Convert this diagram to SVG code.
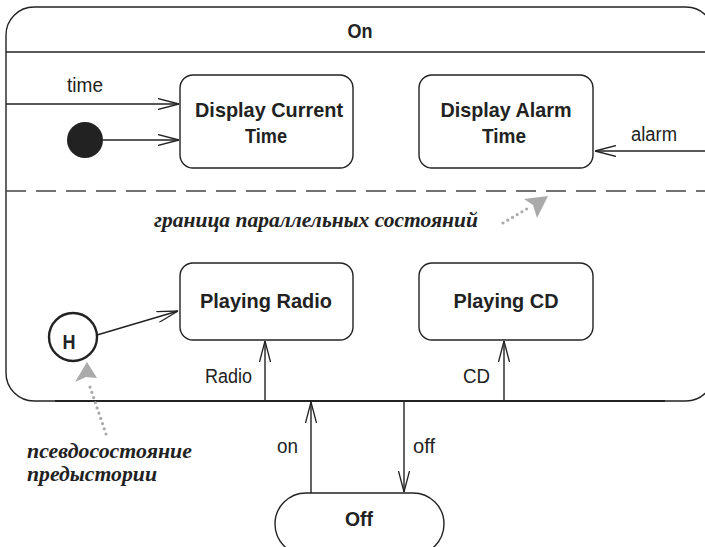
<svg xmlns="http://www.w3.org/2000/svg" width="705" height="547" viewBox="0 0 705 547">
<style>
.ln{fill:none;stroke:#222;stroke-width:1.4}
.st{fill:#fff;stroke:#222;stroke-width:1.4}
.t{font-family:"Liberation Sans",Arial,sans-serif;font-size:20px;fill:#222}
.b{font-family:"Liberation Sans",Arial,sans-serif;font-size:21px;font-weight:bold;fill:#222;text-anchor:middle}
.n{font-family:"Liberation Serif","DejaVu Serif",serif;font-style:italic;font-weight:bold;font-size:22px;fill:#222}
.dot{fill:none;stroke:#aaa;stroke-width:3.2;stroke-linecap:round;stroke-dasharray:0 5.5}
</style>
<defs>
<marker id="a" viewBox="0 0 21 12" refX="21" refY="6" markerWidth="21" markerHeight="12" markerUnits="userSpaceOnUse" orient="auto">
<path d="M0,0.5 L21,6 L0,11.5" fill="none" stroke="#222" stroke-width="1.3"/>
</marker>
</defs>
<g id="On">
<path class="st" d="M34,7 H686 A28,28 0 0 1 714,35 V373 A28,28 0 0 1 686,401 H34 A28,28 0 0 1 6,373 V35 A28,28 0 0 1 34,7 Z"/>
<line class="ln" x1="6" y1="52" x2="705" y2="52"/>
<text class="b" x="360" y="38" textLength="25" lengthAdjust="spacingAndGlyphs">On</text>
<line x1="6" y1="191" x2="705" y2="191" stroke="#444" stroke-width="1.4" stroke-dasharray="20 10"/>
<line x1="55" y1="401" x2="665" y2="401" stroke="#222" stroke-width="2.2"/>
</g>
<g id="initial"><circle cx="85" cy="140" r="18" fill="#222"/></g>
<g id="history">
<circle cx="73" cy="337" r="24" fill="#fff" stroke="#222" stroke-width="2.4"/>
<text class="b" x="69" y="349" textLength="13" lengthAdjust="spacingAndGlyphs">H</text>
</g>
<g id="DisplayCurrentTime">
<rect class="st" x="180" y="75" width="173" height="93" rx="13"/>
<text class="b" x="269" y="117" textLength="148" lengthAdjust="spacingAndGlyphs">Display Current</text>
<text class="b" x="266" y="143" textLength="42" lengthAdjust="spacingAndGlyphs">Time</text>
</g>
<g id="DisplayAlarmTime">
<rect class="st" x="419" y="75" width="174" height="93" rx="13"/>
<text class="b" x="506" y="117" textLength="131" lengthAdjust="spacingAndGlyphs">Display Alarm</text>
<text class="b" x="504" y="143" textLength="44" lengthAdjust="spacingAndGlyphs">Time</text>
</g>
<g id="PlayingRadio">
<rect class="st" x="180" y="263" width="173" height="77" rx="13"/>
<text class="b" x="266" y="308" textLength="132" lengthAdjust="spacingAndGlyphs">Playing Radio</text>
</g>
<g id="PlayingCD">
<rect class="st" x="419" y="263" width="174" height="77" rx="13"/>
<text class="b" x="506" y="308" textLength="105" lengthAdjust="spacingAndGlyphs">Playing CD</text>
</g>
<g id="Off">
<rect class="st" x="275" y="493" width="169" height="62" rx="31"/>
<text class="b" x="359" y="526" textLength="28" lengthAdjust="spacingAndGlyphs">Off</text>
</g>
<g id="connectors">
<path class="ln" d="M6,104 H179" marker-end="url(#a)"/>
<path class="ln" d="M103,140 H179" marker-end="url(#a)"/>
<path class="ln" d="M705,151 H595" marker-end="url(#a)"/>
<path class="ln" d="M97,335 L178,311" marker-end="url(#a)"/>
<path class="ln" d="M265,401 V341" marker-end="url(#a)"/>
<path class="ln" d="M504,401 V341" marker-end="url(#a)"/>
<path class="ln" d="M311,493 V402" marker-end="url(#a)"/>
<path class="ln" d="M404,402 V492" marker-end="url(#a)"/>
<text class="t" x="67" y="92" textLength="36" lengthAdjust="spacingAndGlyphs">time</text>
<text class="t" x="631" y="141" textLength="46" lengthAdjust="spacingAndGlyphs">alarm</text>
<text class="t" x="205" y="383" textLength="47" lengthAdjust="spacingAndGlyphs">Radio</text>
<text class="t" x="463" y="383" textLength="27" lengthAdjust="spacingAndGlyphs">CD</text>
<text class="t" x="277" y="453" textLength="21" lengthAdjust="spacingAndGlyphs">on</text>
<text class="t" x="413" y="453" textLength="22" lengthAdjust="spacingAndGlyphs">off</text>
</g>
<g id="notes">
<text class="n" x="154" y="227" textLength="324" lengthAdjust="spacingAndGlyphs">граница параллельных состояний</text>
<path class="dot" d="M503,223 L530,207"/>
<polygon points="548,196 524,199 533,205 537,218" fill="#aaa"/>
<text class="n" x="27" y="458" textLength="165" lengthAdjust="spacingAndGlyphs">псевдосостояние</text>
<text class="n" x="27" y="481" textLength="130" lengthAdjust="spacingAndGlyphs">предыстории</text>
<path class="dot" d="M106,434 L89,384"/>
<polygon points="87,362 75,382 86,377 97,378" fill="#aaa"/>
</g>
</svg>
